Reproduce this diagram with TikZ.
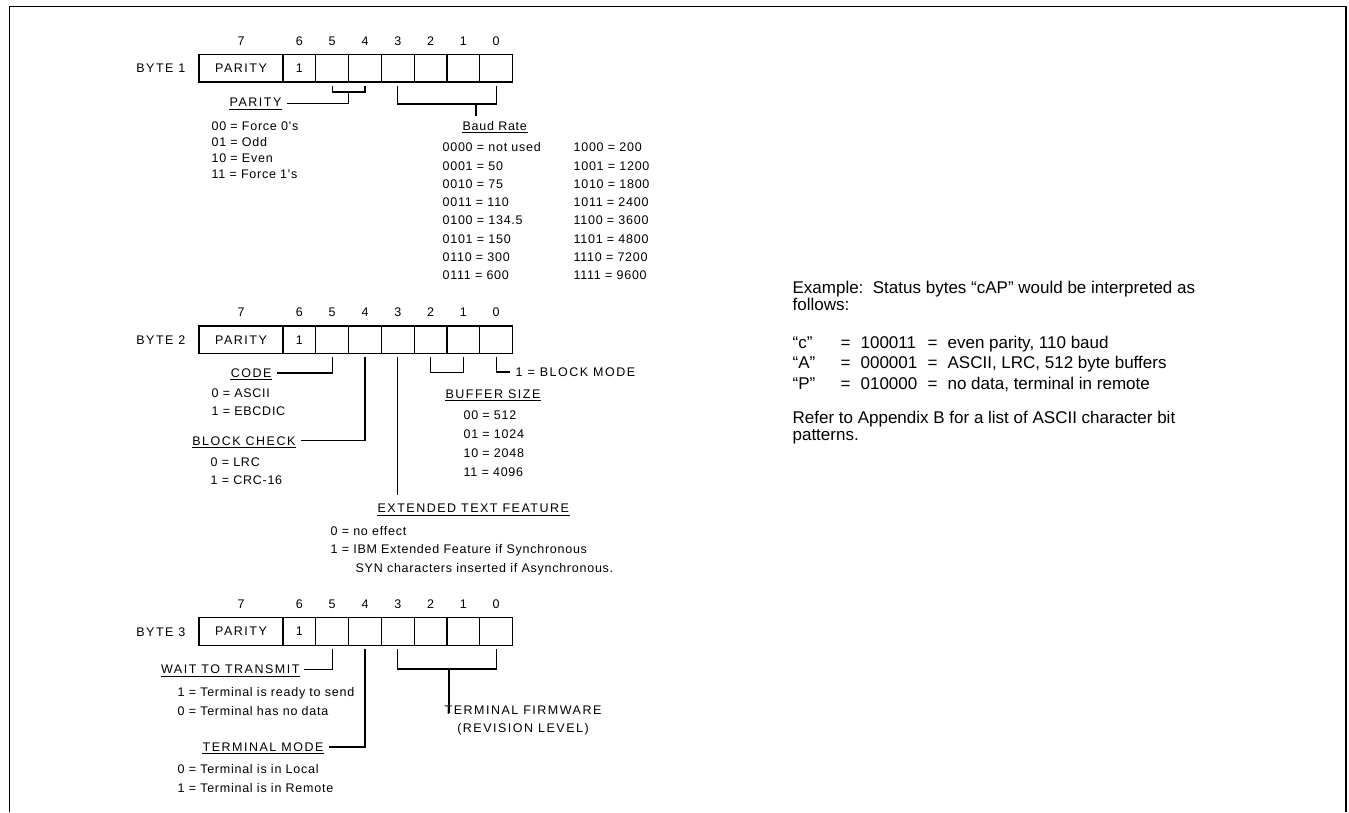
\documentclass[tikz,border=0pt]{standalone}
\usepackage{fontspec}
\setmainfont{Liberation Sans}
\newfontfamily\smallf[LetterSpace=6]{Liberation Sans}
\newfontfamily\labf[LetterSpace=12]{Liberation Sans}
\usetikzlibrary{calc}
\newcommand{\mybyte}[3]{%
  \node[pcell] (#1p) at (241,#2) {PARITY};
  \node[bitn] (#1n7) at (241,{#2-23}) {7};
  \foreach \b/\k in {6/0,5/1,4/2,3/3,2/4,1/5,0/6}{
    \node[cell] (#1c\b) at ({299.4+32.8*\k},#2) {\ifnum\b=6 \normalfont\fontsize{12.5}{14}\selectfont 1\fi};
    \node[bitn] (#1n\b) at ({299.4+32.8*\k},{#2-23}) {\b};
  }
  \node[bytel] (#1lab) at (186,{#2+4.5}) {BYTE #3};
}
\begin{document}
\begin{tikzpicture}[x=1pt,y=-1pt,line width=1.2pt,
  cell/.style={draw,line width=1.3pt,minimum height=27.5pt,minimum width=32.8pt,inner sep=0pt,font=\labf\fontsize{12.5}{14}\selectfont},
  pcell/.style={cell,minimum width=84pt},
  bitn/.style={font=\fontsize{12.5}{14}\selectfont,inner sep=0pt,anchor=base},
  bytel/.style={font=\labf\fontsize{12.5}{14}\selectfont,inner sep=0pt,anchor=base east},
  lab/.style={font=\labf\fontsize{12.5}{14}\selectfont,inner sep=0pt},
  ul/.style={append after command={([yshift=-2.5pt]\tikzlastnode.base west) edge[line width=0.9pt] ([yshift=-2.5pt]\tikzlastnode.base east)}},
  txt/.style={font=\smallf\fontsize{12.5}{14}\selectfont,inner sep=0pt,anchor=base west},
  conn/.style={line width=1.2pt},
  big/.style={font=\fontsize{17}{20}\selectfont,inner sep=0pt,anchor=base west}]
\useasboundingbox (0,0) rectangle (1349,812);
\fill[white] (0,0) rectangle (1349,812);
% frame
\draw[line width=1.4pt] (9.5,812) -- (9.5,6.5) -- (1346,6.5) -- (1346,812);

% ---------------- BYTE 1 ----------------
\mybyte{b1}{68.25}{1}
\node[lab,anchor=base east,ul] (par1) at (282,106.5) {PARITY};
\coordinate (p1m) at (348.6,92);
\draw[conn] ([yshift=-3pt]b1c5.south) |- (p1m) -| ([yshift=-3pt]b1c4.south);
\draw[conn] (p1m) |- ([xshift=5pt,yshift=3pt]par1.base east);
\foreach \t [count=\i] in {00 = Force 0's, 01 = Odd, 10 = Even, 11 = Force 1's}
  \node[txt] (po\i) at (211,{114+16*\i}) {\t};
\node[txt,ul] (baud) at (462,130) {Baud Rate};
\coordinate (br1) at (476,104);
\coordinate (br1e) at (476,116);
\draw[conn] ([yshift=-3pt]b1c3.south) |- (br1) -| ([yshift=-3pt]b1c0.south);
\draw[conn] (br1) -- (br1e);
\foreach \a/\b [count=\i] in {0000 = not used/1000 = 200, 0001 = 50/1001 = 1200, 0010 = 75/1010 = 1800, 0011 = 110/1011 = 2400, 0100 = 134.5/1100 = 3600, 0101 = 150/1101 = 4800, 0110 = 300/1110 = 7200, 0111 = 600/1111 = 9600}{
  \node[txt] (bl\i) at (442,{133.4+18.3*\i}) {\a};
  \node[txt] (bh\i) at (573,{133.4+18.3*\i}) {\b};
}

% ---------------- BYTE 2 ----------------
\mybyte{b2}{339.75}{2}
\node[lab,anchor=base east,ul] (code) at (272,377) {CODE};
\draw[conn] ([yshift=-3pt]b2c5.south) |- ([xshift=5pt,yshift=4pt]code.base east);
\node[txt] (c0) at (211,397) {0 = ASCII};
\node[txt] (c1) at (211,415) {1 = EBCDIC};
\node[lab,anchor=base east,ul] (bchk) at (296,445) {BLOCK CHECK};
\draw[conn] ([yshift=-3pt]b2c4.south) |- ([xshift=5pt,yshift=4.5pt]bchk.base east);
\node[txt] (k0) at (210,466) {0 = LRC};
\node[txt] (k1) at (210,484.5) {1 = CRC-16};
\node[lab,anchor=base west,ul] (ext) at (377,512.5) {EXTENDED TEXT FEATURE};
\coordinate (e3) at (397.8,495);
\draw[conn] ([yshift=-3pt]b2c3.south) -- (e3);
\node[txt] (x0) at (330,535) {0 = no effect};
\node[txt] (x1) at (330,553.5) {1 = IBM Extended Feature if Synchronous};
\node[txt] (x2) at (355,572.5) {SYN characters inserted if Asynchronous.};
\draw[conn] ([yshift=-3pt]b2c2.south) -- ++(0,15) -| ([yshift=-3pt]b2c1.south);
\node[lab,anchor=base west] (bm) at (515,376) {1 = BLOCK MODE};
\draw[conn] ([yshift=-3pt]b2c0.south) |- ([xshift=-5pt,yshift=4pt]bm.base west);
\node[lab,anchor=base west,ul] (buf) at (445,398) {BUFFER SIZE};
\foreach \t [count=\i] in {00 = 512, 01 = 1024, 10 = 2048, 11 = 4096}
  \node[txt] (bs\i) at (463,{400+19*\i}) {\t};

% ---------------- BYTE 3 ----------------
\mybyte{b3}{631.5}{3}
\node[lab,anchor=base east,ul] (wait) at (300,673.5) {WAIT TO TRANSMIT};
\draw[conn] ([yshift=-3pt]b3c5.south) |- ([xshift=4pt,yshift=4pt]wait.base east);
\node[txt] (w1) at (177,696.5) {1 = Terminal is ready to send};
\node[txt] (w0) at (177,715) {0 = Terminal has no data};
\node[lab,anchor=base east,ul] (tmode) at (324,751) {TERMINAL MODE};
\draw[conn] ([yshift=-3pt]b3c4.south) |- ([xshift=5pt,yshift=4pt]tmode.base east);
\node[txt] (m0) at (177,773.5) {0 = Terminal is in Local};
\node[txt] (m1) at (177,792) {1 = Terminal is in Remote};
\coordinate (fw) at (449,669);
\coordinate (fwe) at (449,713);
\draw[conn] ([yshift=-3pt]b3c3.south) |- (fw) -| ([yshift=-3pt]b3c0.south);
\draw[conn] (fw) -- (fwe);
\node[lab,anchor=base,align=center,font=\labf\fontsize{12.5}{18.5}\selectfont] (firm) at (523,732.5) {TERMINAL FIRMWARE\\(REVISION LEVEL)};

% ---------------- right text ----------------
\node[big] (ex1) at (792,293) {Example:\ \ Status bytes “cAP” would be interpreted as};
\node[big] (ex2) at (792,310) {follows:};
\foreach \q/\v/\d [count=\i] in {“c”/100011/{even parity, 110 baud}, “A”/000001/{ASCII, LRC, 512 byte buffers}, “P”/010000/{no data, terminal in remote}}{
  \node[big] (q\i) at (792,{327.5+20.5*\i}) {\q};
  \node[big] (eqa\i) at (840,{327.5+20.5*\i}) {=};
  \node[big] (v\i) at (860,{327.5+20.5*\i}) {\v};
  \node[big] (eqb\i) at (927,{327.5+20.5*\i}) {=};
  \node[big] (d\i) at (947,{327.5+20.5*\i}) {\d};
}
\node[big] (rf1) at (792,423) {Refer to Appendix B for a list of ASCII character bit};
\node[big] (rf2) at (792,440) {patterns.};
\end{tikzpicture}
\end{document}
